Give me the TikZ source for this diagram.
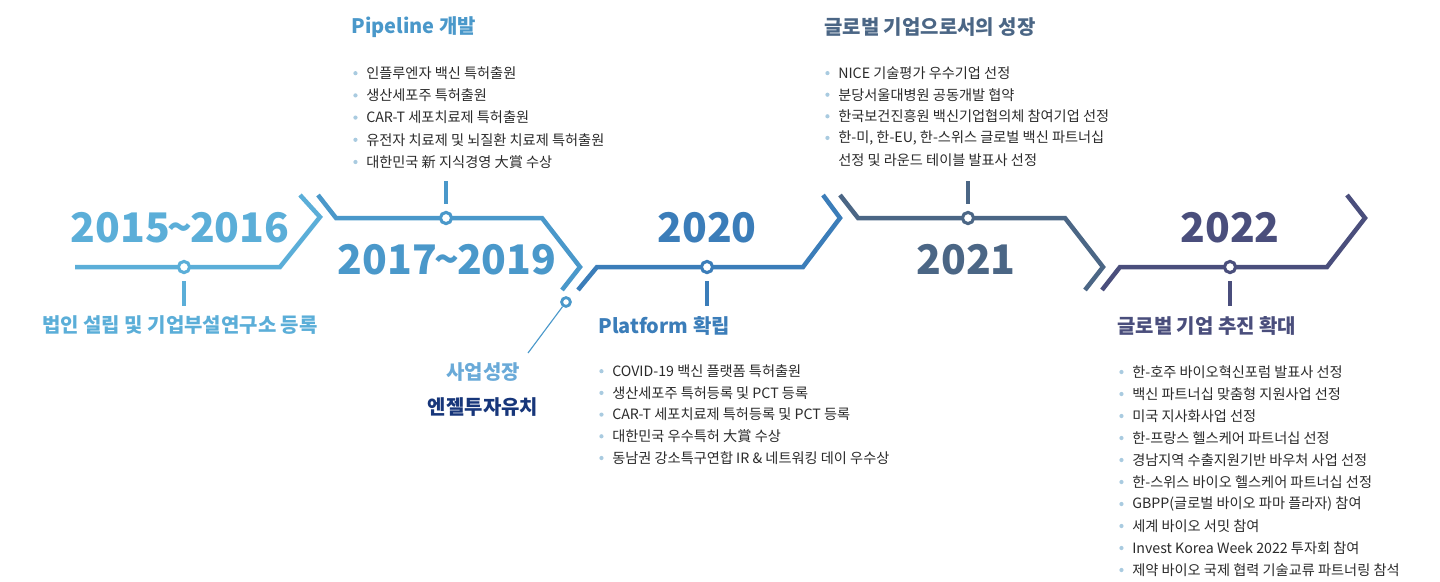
\documentclass[tikz,border=0pt]{standalone}
\usepackage{fontspec}
\setmainfont{Noto Sans CJK KR}
\begin{document}
\begin{tikzpicture}[x=0.025cm,y=-0.025cm]
    \definecolor{stageOne}{HTML}{5BAED8}
    \definecolor{stageTwo}{HTML}{4A98CA}
    \definecolor{stageThree}{HTML}{3B7DB9}
    \definecolor{stageFour}{HTML}{4B6685}
    \definecolor{stageFive}{HTML}{4A4E7C}
    \definecolor{bulletColour}{HTML}{A9CBE0}
    \definecolor{textColour}{HTML}{2A2A2A}
    \definecolor{growthColour}{HTML}{6AAAD8}
    \definecolor{angelColour}{HTML}{17367A}

    \tikzset{
        track/.style={draw=#1, line width=3.2pt, line join=miter},
        stop/.style={circle, draw=#1, fill=white, line width=2.2pt, inner sep=0pt, minimum size=0.28cm},
        tick/.style={draw=#1, line width=3.2pt},
        year/.style={font=\bfseries\fontsize{29}{31}\selectfont, text=#1, inner sep=0pt},
        heading/.style={font=\bfseries\fontsize{14.2}{16}\selectfont, text=#1, inner sep=0pt},
        item/.style={font=\fontsize{10.1}{12}\selectfont, text=textColour, anchor=west, inner sep=0pt},
    }

    \def\yearTilde{\kern-0.06em\textasciitilde\kern-0.06em}

    \useasboundingbox (0,0) rectangle (1440,581);

    % Draw track segments
    \draw[track=stageOne] (75,267) -- (280,267) -- (320,217) -- (300,195);
    \draw[track=stageTwo] (318,195) -- (336,218) -- (542,218) -- (580,267) -- (562,290);
    \draw[track=stageThree] (578,290) -- (597,267) -- (803,267) -- (840,218) -- (823,195);
    \draw[track=stageFour] (840,195) -- (858,218) -- (1065,218) -- (1103,267) -- (1085,290);
    \draw[track=stageFive] (1102,290) -- (1120,267) -- (1327,267) -- (1365,218) -- (1347,195);

    % Stops on the track
    \node[stop=stageOne] (stopA) at (184,267) {};
    \node[stop=stageTwo] (stopB) at (446,218) {};
    \node[stop=stageThree] (stopC) at (707,267) {};
    \node[stop=stageFour] (stopD) at (968,218) {};
    \node[stop=stageFive] (stopE) at (1230,267) {};

    % Ticks
    \draw[tick=stageOne] (184,281) -- (184,306);
    \draw[tick=stageTwo] (446,181) -- (446,204);
    \draw[tick=stageThree] (707,281) -- (707,306);
    \draw[tick=stageFour] (968,181) -- (968,204);
    \draw[tick=stageFive] (1230,281) -- (1230,306);

    % Years
    \node[year=stageOne] (yearA) at (180,228) {2015\yearTilde2016};
    \node[year=stageTwo] (yearB) at (447,260) {2017\yearTilde2019};
    \node[year=stageThree] (yearC) at (707,228) {2020};
    \node[year=stageFour] (yearD) at (966,260) {2021};
    \node[year=stageFive] (yearE) at (1230,228) {2022};

    % Headings
    \node[heading=stageOne] (headA) at (180,325) {법인 설립 및 기업부설연구소 등록};
    \node[heading=stageTwo, anchor=west] (headB) at (351,27) {Pipeline 개발};
    \node[heading=stageThree, anchor=west] (headC) at (598,326) {Platform 확립};
    \node[heading=stageFour, anchor=west] (headD) at (824,27) {글로벌 기업으로서의 성장};
    \node[heading=stageFive, anchor=west] (headE) at (1117,326) {글로벌 기업 추진 확대};

    % Side branch
    \node[stop=stageTwo, minimum size=0.22cm, line width=2pt] (sideStop) at (566,302) {};
    \coordinate (sideEnd) at (528,353);
    \draw[stageTwo, line width=0.8pt] (sideStop) -- (sideEnd);
    \node[heading=growthColour] (growth) at (483,372) {사업성장};
    \node[heading=angelColour] (angel) at (483,407) {엔젤투자유치};

    % Lists
    \foreach \txt [count=\i] in {인플루엔자 백신 특허출원, 생산세포주 특허출원, CAR-T 세포치료제 특허출원, 유전자 치료제 및 뇌질환 치료제 특허출원, 대한민국 新 지식경영 大賞 수상} {
        \node[item] (pipe\i) at (366,51+22.2*\i) {\txt};
        \fill[bulletColour] ([xshift=-7.5pt]pipe\i.west) circle (1.5pt);
    }
    \foreach \txt [count=\i] in {COVID-19 백신 플랫폼 특허출원, 생산세포주 특허등록 및 PCT 등록, CAR-T 세포치료제 특허등록 및 PCT 등록, 대한민국 우수특허 大賞 수상, 동남권 강소특구연합 IR \& 네트워킹 데이 우수상} {
        \node[item] (plat\i) at (612,349.5+21.7*\i) {\txt};
        \fill[bulletColour] ([xshift=-7.5pt]plat\i.west) circle (1.5pt);
    }
    \foreach \txt [count=\i] in {NICE 기술평가 우수기업 선정, 분당서울대병원 공동개발 협약, 한국보건진흥원 백신기업협의체 참여기업 선정, {한-미, 한-EU, 한-스위스 글로벌 백신 파트너십}} {
        \node[item] (glob\i) at (838,51.5+21.6*\i) {\txt};
        \fill[bulletColour] ([xshift=-7.5pt]glob\i.west) circle (1.5pt);
    }
    \node[item] (glob5) at (838,160) {선정 및 라운드 테이블 발표사 선정};
    \foreach \txt [count=\i] in {한-호주 바이오혁신포럼 발표사 선정, 백신 파트너십 맞춤형 지원사업 선정, 미국 지사화사업 선정, 한-프랑스 헬스케어 파트너십 선정, 경남지역 수출지원기반 바우처 사업 선정, 한-스위스 바이오 헬스케어 파트너십 선정, GBPP(글로벌 바이오 파마 플라자) 참여, 세계 바이오 서밋 참여, Invest Korea Week 2022 투자회 참여, 제약 바이오 국제 협력 기술교류 파트너링 참석} {
        \node[item] (expand\i) at (1132,350+22*\i) {\txt};
        \fill[bulletColour] ([xshift=-7.5pt]expand\i.west) circle (1.5pt);
    }

\end{tikzpicture}
\end{document}
